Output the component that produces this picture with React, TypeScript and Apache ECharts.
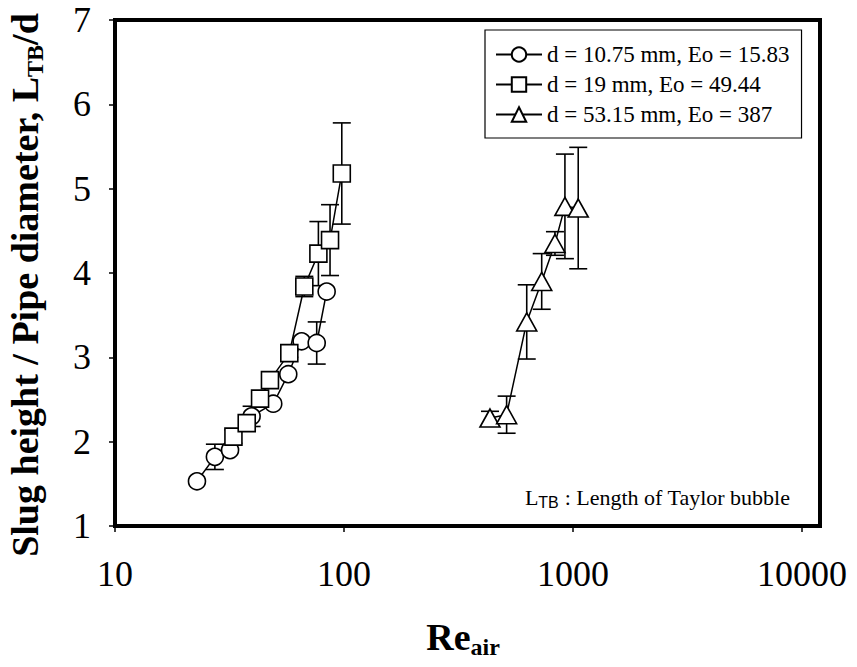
import React, { useEffect, useRef } from 'react';
import * as echarts from 'echarts';

// d = 10.75 mm, Eo = 15.83 (circles)
const circleRe = [22.8, 27.3, 31.8, 39.5, 49.1, 57.1, 65.3, 76.0, 84.0];
const circleL = [1.53, 1.82, 1.90, 2.30, 2.45, 2.80, 3.19, 3.17, 3.78];
const circleErr = [0, 0.15, 0, 0.12, 0, 0, 0, 0.25, 0];

// d = 19 mm, Eo = 49.44 (squares)
const squareRe = [32.9, 37.6, 43.0, 47.5, 57.7, 67.1, 77.3, 86.9, 97.8];
const squareL = [2.06, 2.22, 2.51, 2.73, 3.05, 3.84, 4.23, 4.39, 5.18];
const squareErr = [0.08, 0, 0, 0, 0.05, 0.12, 0.38, 0.42, 0.6];

// d = 53.15 mm, Eo = 387 (triangles)
const triRe = [434, 513, 628, 730, 834, 922, 1054];
const triL = [2.28, 2.32, 3.42, 3.90, 4.35, 4.79, 4.77];
const triErr = [0.08, 0.22, 0.44, 0.33, 0.14, 0.62, 0.72];

const seriesNames = [
  'd = 10.75 mm, Eo = 15.83',
  'd = 19 mm, Eo = 49.44',
  'd = 53.15 mm, Eo = 387',
];
const xTickValues = [10, 100, 1000, 10000];

const FONT = '"Liberation Serif", "Times New Roman", serif';

function pairs(xs: number[], ys: number[]) {
  return xs.map((x, i) => [x, ys[i]]);
}
function errData(xs: number[], ys: number[], es: number[]) {
  return xs
    .map((x, i) => [x, ys[i] - es[i], ys[i] + es[i], es[i]])
    .filter((d) => d[3] > 0);
}

const errRender = (params: any, api: any) => {
  const x = api.value(0);
  const lo = api.value(1);
  const hi = api.value(2);
  const p1 = api.coord([x, lo]);
  const p2 = api.coord([x, hi]);
  const w = 9;
  const st = { stroke: '#000', lineWidth: 1.6 };
  return {
    type: 'group',
    children: [
      { type: 'line', shape: { x1: p1[0], y1: p1[1], x2: p2[0], y2: p2[1] }, style: st },
      { type: 'line', shape: { x1: p1[0] - w, y1: p1[1], x2: p1[0] + w, y2: p1[1] }, style: st },
      { type: 'line', shape: { x1: p2[0] - w, y1: p2[1], x2: p2[0] + w, y2: p2[1] }, style: st },
    ],
  };
};

export default function App() {
  const ref = useRef<HTMLDivElement>(null);
  useEffect(() => {
    const chart = echarts.init(ref.current!, null, { renderer: 'svg' });
    const gridLeft = 115;
    const gridTop = 20;
    const gridRight = 820;
    const gridBottom = 526;
    const decade = (802 - 115) / 3;
    const xMax = Math.pow(10, 4 + (gridRight - 802) / decade);

    const lineSeries = (name: string, data: number[][], symbol: string, size: any) => ({
      type: 'line',
      name,
      data,
      symbol,
      symbolSize: size,
      showAllSymbol: true,
      z: 5,
      lineStyle: { color: '#000', width: 1.5 },
      itemStyle: { color: '#fff', borderColor: '#000', borderWidth: 1.6 },
      emphasis: { disabled: true },
    });
    const errSeries = (name: string, data: number[][]) => ({
      type: 'custom',
      name,
      data,
      renderItem: errRender,
      encode: { x: 0, y: [1, 2] },
      z: 3,
      silent: true,
    });

    chart.setOption({
      animation: false,
      backgroundColor: '#fff',
      grid: {
        left: gridLeft,
        top: gridTop,
        width: gridRight - gridLeft,
        height: gridBottom - gridTop,
        containLabel: false,
      },
      legend: {
        data: seriesNames,
        orient: 'vertical',
        left: 485,
        top: 30,
        padding: [13, 12, 12, 10],
        itemGap: 7,
        itemWidth: 46,
        itemHeight: 18,
        borderColor: '#000',
        borderWidth: 1.2,
        backgroundColor: '#fff',
        selectedMode: false,
        textStyle: { fontFamily: FONT, fontSize: 23, color: '#000', lineHeight: 22 },
      },
      xAxis: {
        type: 'log',
        logBase: 10,
        min: 10,
        max: xMax,
        splitLine: { show: false },
        axisLine: { show: true, lineStyle: { color: '#000', width: 3 } },
        axisTick: { show: true, inside: false, length: 6, lineStyle: { color: '#000', width: 1.5 } },
        minorTick: { show: false },
        axisLabel: {
          showMaxLabel: false,
          margin: 30,
          fontFamily: FONT,
          fontSize: 36,
          color: '#000',
          formatter: (v: number) => {
            const r = xTickValues.find((t) => Math.abs(Math.log10(v) - Math.log10(t)) < 1e-6);
            return r ? String(r) : '';
          },
        },
      },
      yAxis: {
        type: 'value',
        min: 1,
        max: 7,
        interval: 1,
        splitLine: { show: false },
        axisLine: { show: true, lineStyle: { color: '#000', width: 3 } },
        axisTick: { show: true, inside: false, length: 6, lineStyle: { color: '#000', width: 1.5 } },
        axisLabel: { margin: 24, fontFamily: FONT, fontSize: 36, color: '#000' },
      },
      graphic: [
        {
          type: 'rect',
          z: 100,
          silent: true,
          shape: { x: gridLeft, y: gridTop, width: gridRight - gridLeft, height: gridBottom - gridTop },
          style: { fill: 'none', stroke: '#000', lineWidth: 4 },
        },
        {
          type: 'text',
          z: 100,
          x: 25,
          y: 285,
          rotation: Math.PI / 2,
          style: {
            text: 'Slug height / Pipe diameter, L{sub|TB}/d',
            align: 'center',
            verticalAlign: 'middle',
            fontFamily: FONT,
            fontSize: 38,
            fontWeight: 'bold',
            lineHeight: 44,
            fill: '#000',
            rich: {
              sub: {
                fontFamily: FONT,
                fontSize: 24,
                fontWeight: 'bold',
                lineHeight: 22,
                verticalAlign: 'bottom',
                fill: '#000',
              },
            },
          },
        },
        {
          type: 'text',
          z: 100,
          x: 463,
          y: 637,
          style: {
            text: 'Re{sub|air}',
            align: 'center',
            verticalAlign: 'middle',
            fontFamily: FONT,
            fontSize: 38,
            fontWeight: 'bold',
            lineHeight: 44,
            fill: '#000',
            rich: {
              sub: {
                fontFamily: FONT,
                fontSize: 24,
                fontWeight: 'bold',
                lineHeight: 22,
                verticalAlign: 'bottom',
                fill: '#000',
              },
            },
          },
        },
        {
          type: 'text',
          z: 100,
          x: 790,
          y: 497,
          style: {
            text: 'L{s|TB} : Length of Taylor bubble',
            align: 'right',
            verticalAlign: 'middle',
            fontFamily: FONT,
            fontSize: 22,
            lineHeight: 26,
            fill: '#000',
            rich: {
              s: {
                fontFamily: '"Liberation Sans", Arial, sans-serif',
                fontSize: 16,
                lineHeight: 15,
                verticalAlign: 'bottom',
                fill: '#000',
              },
            },
          },
        },
      ],
      series: [
        lineSeries(seriesNames[0], pairs(circleRe, circleL), 'circle', 17),
        lineSeries(seriesNames[1], pairs(squareRe, squareL), 'rect', 17),
        lineSeries(seriesNames[2], pairs(triRe, triL), 'triangle', [20, 18]),
        errSeries('err0', errData(circleRe, circleL, circleErr)),
        errSeries('err1', errData(squareRe, squareL, squareErr)),
        errSeries('err2', errData(triRe, triL, triErr)),
      ],
    });
    return () => chart.dispose();
  }, []);
  return (
    <div
      ref={ref}
      style={{ position: 'absolute', left: 0, top: 0, width: 857, height: 667, background: '#fff' }}
    />
  );
}
